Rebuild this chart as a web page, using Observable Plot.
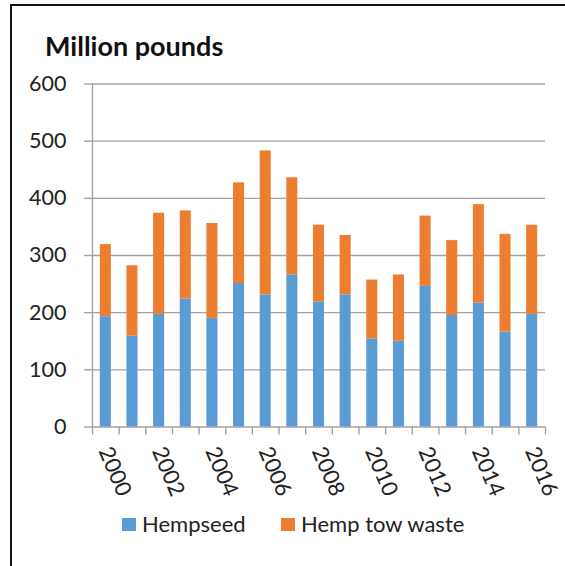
<!DOCTYPE html>
<html>
<head>
<meta charset="utf-8">
<script src="https://cdn.jsdelivr.net/npm/d3@7"></script>
<script src="https://cdn.jsdelivr.net/npm/@observablehq/plot@0.6"></script>
<style>
  html, body { margin: 0; padding: 0; background: #fff; }
  #wrap { position: relative; width: 565px; height: 566px; overflow: hidden; font-family: Lato, "Open Sans", sans-serif; }
  #frame { position: absolute; left: 10px; top: 4px; width: 700px; height: 700px; border-left: 2px solid #111; border-top: 2px solid #111; box-sizing: border-box; }
  #title { position: absolute; left: 45px; top: 32px; font-size: 27px; font-weight: bold; color: #111; line-height: 1; white-space: nowrap; }
  #chart { position: absolute; left: 0; top: 60px; }
  #legend { position: absolute; top: 511px; left: 0; width: 565px; height: 30px; font-size: 22px; color: #222; }
  .item { position: absolute; top: 0; display: flex; align-items: center; white-space: nowrap; line-height: 26px; }
  .sw { display: inline-block; width: 14px; height: 13px; margin-right: 6px; }
</style>
</head>
<body>
<div id="wrap">
  <div id="frame"></div>
  <div id="title">Million pounds</div>
  <div id="chart"></div>
  <div id="legend"></div>
</div>
<script>
// ---- data ----
const years = [2000, 2001, 2002, 2003, 2004, 2005, 2006, 2007, 2008, 2009, 2010, 2011, 2012, 2013, 2014, 2015, 2016];
const hempseed = [193, 159, 197, 224, 190, 251, 231, 266, 219, 231, 154, 150, 246, 195, 217, 166, 197];
const hempTowWaste = [126, 123, 177, 154, 166, 176, 252, 170, 134, 104, 103, 116, 123, 131, 172, 171, 156];
const seriesNames = ["Hempseed", "Hemp tow waste"];
const seriesColors = ["#5B9BD5", "#ED7D31"];
const yTicks = [0, 100, 200, 300, 400, 500, 600];
const labelYears = [2000, 2002, 2004, 2006, 2008, 2010, 2012, 2014, 2016];

const rows = [];
years.forEach((yr, i) => {
  rows.push({year: yr, series: seriesNames[0], value: hempseed[i]});
  rows.push({year: yr, series: seriesNames[1], value: hempTowWaste[i]});
});
const bounds = years.concat([years[years.length - 1] + 1]);
const gray = "#A3A3A3";

const chart = Plot.plot({
  width: 565,
  height: 450,
  marginLeft: 92,
  marginRight: 20,
  marginTop: 23.5,
  marginBottom: 83.5,
  style: {fontFamily: "Lato, 'Open Sans', sans-serif", color: "#222", background: "transparent"},
  x: {domain: [bounds[0], bounds[bounds.length - 1]]},
  y: {domain: [0, 600]},
  color: {domain: seriesNames, range: seriesColors},
  marks: [
    Plot.gridY(yTicks, {stroke: gray, strokeOpacity: 1, strokeWidth: 1.4}),
    Plot.axisY({ticks: yTicks, tickSize: 8, tickPadding: 18, fontSize: 21.5, stroke: gray, strokeWidth: 1.4, label: null, fill: "#222"}),
    Plot.ruleX([bounds[0]], {stroke: gray, strokeWidth: 1.4}),
    Plot.rectY(rows, {x: "year", interval: 1, y: "value", fill: "series", insetLeft: 7.8, insetRight: 7.8}),
    Plot.axisX({ticks: bounds, tickSize: 8, tickFormat: () => "", stroke: gray, strokeWidth: 1.4, label: null}),
    Plot.axisX({ticks: labelYears.map(y => y + 0.5), tickFormat: d => String(Math.floor(d)), tickSize: 0, tickPadding: 21, tickRotate: 67, fontSize: 22, dx: -1, label: null, fill: "#222"})
  ]
});
document.getElementById("chart").appendChild(chart);

const legend = document.getElementById("legend");
const lefts = [122, 281];
seriesNames.forEach((name, i) => {
  const item = document.createElement("div");
  item.className = "item";
  item.style.left = lefts[i] + "px";
  const sw = document.createElement("span");
  sw.className = "sw";
  sw.style.background = seriesColors[i];
  item.appendChild(sw);
  item.appendChild(document.createTextNode(name));
  legend.appendChild(item);
});
</script>
</body>
</html>
